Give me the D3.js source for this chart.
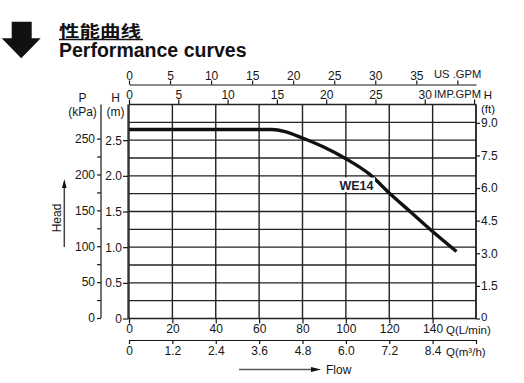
<!DOCTYPE html>
<html><head><meta charset="utf-8">
<script src="https://cdn.jsdelivr.net/npm/d3@7"></script>
<style>html,body{margin:0;padding:0;background:#fff;}svg{display:block;}</style>
</head><body>
<script>
// ---- data ----
const flowLmin = [0, 20, 40, 60, 66, 72, 80, 90, 100, 111, 120, 130, 140, 151];
const headM    = [2.65, 2.65, 2.65, 2.65, 2.65, 2.62, 2.53, 2.40, 2.24, 2.02, 1.76, 1.49, 1.22, 0.94];
const seriesName = "WE14";
const lminTicks = [0, 20, 40, 60, 80, 100, 120, 140];
const m3hLabels = ["0", "1.2", "2.4", "3.6", "4.8", "6.0", "7.2", "8.4"];
const usGpmTicks = [0, 5, 10, 15, 20, 25, 30, 35, 40];
const impGpmTicks = [0, 5, 10, 15, 20, 25, 30, 35];
const headMTicks = [0, 0.5, 1.0, 1.5, 2.0, 2.5];
const headMGrid = [0.25, 0.5, 0.75, 1, 1.25, 1.5, 1.75, 2, 2.25, 2.5, 2.75];
const kpaTicks = [0, 25, 50, 75, 100, 125, 150, 175, 200, 225, 250];
const ftTicks = [0, 1.5, 3.0, 4.5, 6.0, 7.5, 9.0];
const L_PER_USGAL = 3.785, L_PER_IMPGAL = 4.546, M_PER_FT = 0.3048;

const W = 524, H = 383;
const svg = d3.select("body").append("svg").attr("width", W).attr("height", H);
const font = "'Liberation Sans', Arial, sans-serif";
const ink = "#161616";

const x = d3.scaleLinear().domain([0, 160]).range([129, 476]);
const y = d3.scaleLinear().domain([0, 3]).range([318.5, 104.5]);
const yP = d3.scaleLinear().domain([0, 250]).range([318, 138.6]);

// ---- title ----
svg.append("path").attr("d", "M11.7,21.7 H31.7 V38.3 H40.7 L21.2,58.3 L1.7,38.3 H11.7 Z").attr("fill", "#111");
svg.append("text").attr("transform", "translate(59,37) scale(1.28,1)")
  .attr("font-family", "'Noto Sans CJK SC', sans-serif").attr("font-weight", "bold")
  .attr("font-size", 16).attr("fill", "#111").text("性能曲线");
svg.append("line").attr("x1", 59).attr("x2", 143).attr("y1", 39.5).attr("y2", 39.5).attr("stroke", "#111").attr("stroke-width", 1.5);
svg.append("text").attr("x", 59).attr("y", 57.3).attr("font-family", font).attr("font-weight", "bold")
  .attr("font-size", 19.5).attr("fill", "#111").text("Performance curves");

// ---- grid ----
const grid = svg.append("g").attr("stroke", "#222").attr("stroke-width", 1.4);
headMGrid.forEach(h => grid.append("line").attr("x1", x(0)).attr("x2", x(160)).attr("y1", y(h)).attr("y2", y(h)));
lminTicks.concat([160]).forEach(q => grid.append("line").attr("x1", x(q)).attr("x2", x(q)).attr("y1", y(0)).attr("y2", y(3)));
grid.append("line").attr("x1", x(0)).attr("x2", x(160)).attr("y1", y(3)).attr("y2", y(3));
grid.append("line").attr("x1", x(0) - 1).attr("x2", x(160)).attr("y1", y(0)).attr("y2", y(0));

function styleAxis(g, fs) {
  g.selectAll("path,line").attr("stroke", ink).attr("stroke-width", 1.2);
  g.selectAll("text").attr("font-family", font).attr("font-size", fs || 12).attr("fill", ink);
}

// bottom L/min axis
const axB = svg.append("g").attr("transform", `translate(0,${y(0)})`)
  .call(d3.axisBottom(x).tickValues(lminTicks).tickFormat(d3.format("d")).tickSize(5).tickSizeOuter(0).tickPadding(1));
axB.select(".domain").remove();
styleAxis(axB);

// m3/h axis
const axM = svg.append("g").attr("transform", "translate(0,340)")
  .call(d3.axisBottom(x).tickValues(lminTicks.concat([160])).tickFormat((d, i) => i < m3hLabels.length ? m3hLabels[i] : "").tickSize(4).tickSizeOuter(0).tickPadding(2));
styleAxis(axM);

// top US GPM axis
const xUS = d3.scaleLinear().domain([0, 160 / L_PER_USGAL]).range([129, 476]);
const axUS = svg.append("g").attr("transform", "translate(0,84.5)")
  .call(d3.axisTop(xUS).tickValues(usGpmTicks).tickFormat(d => d < 40 ? d : "").tickSize(4).tickSizeOuter(0).tickPadding(1));
styleAxis(axUS);

// top IMP GPM axis (plot top border)
const xIMP = d3.scaleLinear().domain([0, 160 / L_PER_IMPGAL]).range([129, 476]);
const axIMP = svg.append("g").attr("transform", `translate(0,${y(3)})`)
  .call(d3.axisTop(xIMP).tickValues(impGpmTicks).tickFormat(d => d < 35 ? d : "").tickSize(5).tickSizeOuter(0).tickPadding(1));
axIMP.select(".domain").remove();
styleAxis(axIMP);

// left H(m) axis
const axH = svg.append("g").attr("transform", "translate(128,0)")
  .call(d3.axisLeft(y).tickValues(headMTicks).tickFormat(d => d === 0 ? "0" : d3.format(".1f")(d)).tickSize(5).tickSizeOuter(0).tickPadding(1));
axH.select(".domain").attr("d", `M0,${y(3)}V${y(0)}`);
styleAxis(axH);

// left P(kPa) axis
const axP = svg.append("g").attr("transform", "translate(101,0)")
  .call(d3.axisLeft(yP).tickValues(kpaTicks).tickFormat(d => d % 50 === 0 ? d : "").tickSize(4).tickSizeOuter(0).tickPadding(2));
axP.select(".domain").attr("d", `M0,${y(3)}V${yP(0)}`);
styleAxis(axP);

// right H(ft) axis
const yFt = d3.scaleLinear().domain([0, 3 / M_PER_FT]).range([318.5, 104.5]);
const axF = svg.append("g").attr("transform", "translate(476,0)")
  .call(d3.axisRight(yFt).tickValues(ftTicks).tickFormat(d => d === 0 ? "0" : d3.format(".1f")(d)).tickSize(4).tickSizeOuter(0).tickPadding(1));
axF.select(".domain").attr("d", `M0,${y(3)}V${y(0)}`);
styleAxis(axF);
axF.selectAll(".tick text").filter(d => d === 0).attr("dy", "0.2em").attr("font-size", 11.5);

// axis unit labels
const lbl = (tx, ty, s, anchor, fs) => svg.append("text").attr("x", tx).attr("y", ty).attr("text-anchor", anchor || "middle")
  .attr("font-family", font).attr("font-size", fs || 12).attr("fill", ink).text(s);
lbl(82.5, 101.5, "P"); lbl(82.5, 116, "(kPa)");
lbl(115.5, 101.5, "H"); lbl(115.5, 116, "(m)");
lbl(488, 98.5, "H", "middle", 11.5); lbl(488, 112.5, "(ft)", "middle", 11.5);
lbl(434, 78, "US .GPM", "start", 11.2);
lbl(434, 98, "IMP.GPM", "start", 11.2);
lbl(446, 334, "Q(L/min)", "start", 11.5);
lbl(446, 356, "Q(m³/h)", "start", 11.5);

// Head label & arrow
svg.append("text").attr("transform", "translate(60.5,218) rotate(-90)").attr("text-anchor", "middle")
  .attr("font-family", font).attr("font-size", 12).attr("fill", ink).text("Head");
svg.append("line").attr("x1", 64.3).attr("x2", 64.3).attr("y1", 247).attr("y2", 186).attr("stroke", "#444").attr("stroke-width", 1.5);
svg.append("path").attr("d", "M62,188 L64.3,179 L66.6,188 Z").attr("fill", "#111");

// Flow label & arrow
svg.append("line").attr("x1", 239).attr("x2", 313).attr("y1", 369.5).attr("y2", 369.5).attr("stroke", "#555").attr("stroke-width", 1.5);
svg.append("path").attr("d", "M311,367 L321,369.5 L311,372 Z").attr("fill", "#111");
lbl(326, 374, "Flow", "start");

// ---- curve ----
const pts = flowLmin.map((q, i) => [q, headM[i]]);
svg.append("path").datum(pts)
  .attr("d", d3.line().x(d => x(d[0])).y(d => y(d[1])).curve(d3.curveMonotoneX))
  .attr("fill", "none").attr("stroke", "#111").attr("stroke-width", 3.4);

// series label
svg.append("rect").attr("x", 338).attr("y", 177.5).attr("width", 37).attr("height", 14.5).attr("fill", "#fff");
svg.append("text").attr("x", 356.5).attr("y", 189.5).attr("text-anchor", "middle")
  .attr("font-family", font).attr("font-weight", "bold").attr("font-size", 12.5).attr("fill", "#1a2233").text(seriesName);
</script>
</body></html>
